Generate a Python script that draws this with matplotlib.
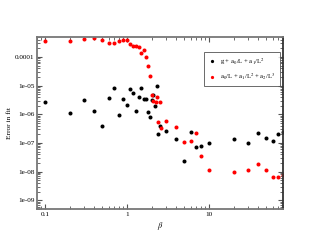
import numpy as np
import matplotlib
matplotlib.use('Agg')
import matplotlib.pyplot as plt
from matplotlib.ticker import LogLocator, FuncFormatter, NullFormatter

plt.rcParams['font.family'] = 'Liberation Serif'
plt.rcParams['mathtext.fontset'] = 'stix'

# fit with constant term
beta_g = [0.1, 0.2, 0.3, 0.4, 0.5, 0.6, 0.7, 0.8, 0.9, 1.0,
          1.1, 1.2, 1.3, 1.4, 1.5, 1.6, 1.7, 1.8, 1.9, 2.0,
          2.1, 2.2, 2.3, 2.4, 2.55, 3, 4, 5, 6, 7, 8, 10,
          20, 30, 40, 50, 60, 70, 80]
err_g = [2.6e-6, 1.1e-6, 3.3e-6, 1.3e-6, 3.8e-7, 3.7e-6, 8.3e-6, 9.3e-7, 3.4e-6, 2.2e-6,
         7.5e-6, 5.6e-6, 1.3e-6, 4.2e-6, 8.3e-6, 3.4e-6, 3.5e-6, 1.2e-6, 8.1e-7, 3.1e-6,
         4.6e-6, 1.9e-6, 9.5e-6, 2.0e-7, 4.0e-7, 2.6e-7, 1.4e-7, 2.3e-8, 2.5e-7, 7.0e-8, 8.2e-8, 1.0e-7,
         1.35e-7, 9.8e-8, 2.2e-7, 1.5e-7, 1.2e-7, 2.1e-7, 2.5e-7]

# fit without constant term
beta_a = [0.1, 0.2, 0.3, 0.4, 0.5, 0.6, 0.7, 0.8, 0.9, 1.0,
          1.1, 1.2, 1.3, 1.4, 1.5, 1.6, 1.7, 1.8, 1.9, 2.0,
          2.1, 2.25, 2.3, 2.4, 2.5, 2.6, 3, 4, 5, 6, 7, 8, 10,
          20, 30, 40, 50, 60, 70, 80]
err_a = [3.6e-4, 3.5e-4, 4.2e-4, 4.5e-4, 4.0e-4, 3.1e-4, 3.0e-4, 3.7e-4, 4.1e-4, 3.8e-4,
         2.8e-4, 2.4e-4, 2.5e-4, 2.2e-4, 1.4e-4, 1.8e-4, 1.0e-4, 4.9e-5, 2.2e-5, 4.9e-6,
         2.9e-6, 2.8e-6, 4.1e-6, 5.3e-7, 2.6e-6, 3.4e-7, 5.7e-7, 3.5e-7, 1.1e-7, 1.2e-7, 2.3e-7, 3.4e-8, 1.1e-8,
         9.8e-9, 1.1e-8, 1.8e-8, 1.1e-8, 6.6e-9, 6.6e-9, 7.4e-9]

labels = [r'g + a$_0$/L + a$_1$/L$^2$', r'a$_0$/L + a$_1$/L$^2$ + a$_2$/L$^3$']

fig = plt.figure(figsize=(3.19, 2.47), dpi=100)
ax = fig.add_axes([0.116, 0.154, 0.771, 0.696])

ax.plot(beta_g, err_g, 'o', color='black', ms=2.9, mew=0, label=labels[0])
ax.plot(beta_a, err_a, 'o', color='red', ms=2.9, mew=0, label=labels[1])

ax.set_xscale('log')
ax.set_yscale('log')
ax.set_xlim(0.08, 80)
ax.set_ylim(5e-10, 5e-4)

ax.xaxis.set_major_locator(LogLocator(base=10, numticks=10))
ax.yaxis.set_major_locator(LogLocator(base=10, numticks=10))
ax.xaxis.set_minor_locator(LogLocator(base=10, subs=np.arange(2, 10), numticks=10))
ax.yaxis.set_minor_locator(LogLocator(base=10, subs=np.arange(2, 10), numticks=10))
ax.xaxis.set_minor_formatter(NullFormatter())
ax.yaxis.set_minor_formatter(NullFormatter())
ax.xaxis.set_major_formatter(FuncFormatter(lambda v, p: '%g' % v))
ax.yaxis.set_major_formatter(FuncFormatter(lambda v, p: '0.0001' if abs(v - 1e-4) < 1e-9 else '%.0e' % v))

ax.tick_params(which='both', direction='in', top=True, right=True, labelsize=5.2, pad=2, color='#555555')
ax.tick_params(which='major', length=3.5, width=0.8)
ax.tick_params(which='minor', length=2, width=0.6)

for s in ax.spines.values():
    s.set_color('#777777')
    s.set_linewidth(1.3)
ax.spines['right'].set_color('#333333')

ax.set_xlabel(r'$\beta$', fontsize=6, labelpad=2)
ax.set_ylabel('Error in fit', fontsize=5.3, labelpad=2)

leg = ax.legend(loc='upper right', bbox_to_anchor=(1.0, 0.93), fontsize=4.8, frameon=True,
                fancybox=False, edgecolor='#444444', handletextpad=0.5, handlelength=1.3,
                borderpad=0.6, labelspacing=0.7, markerscale=0.8)
leg.get_frame().set_linewidth(0.7)

fig.savefig('out.png', dpi=100)
